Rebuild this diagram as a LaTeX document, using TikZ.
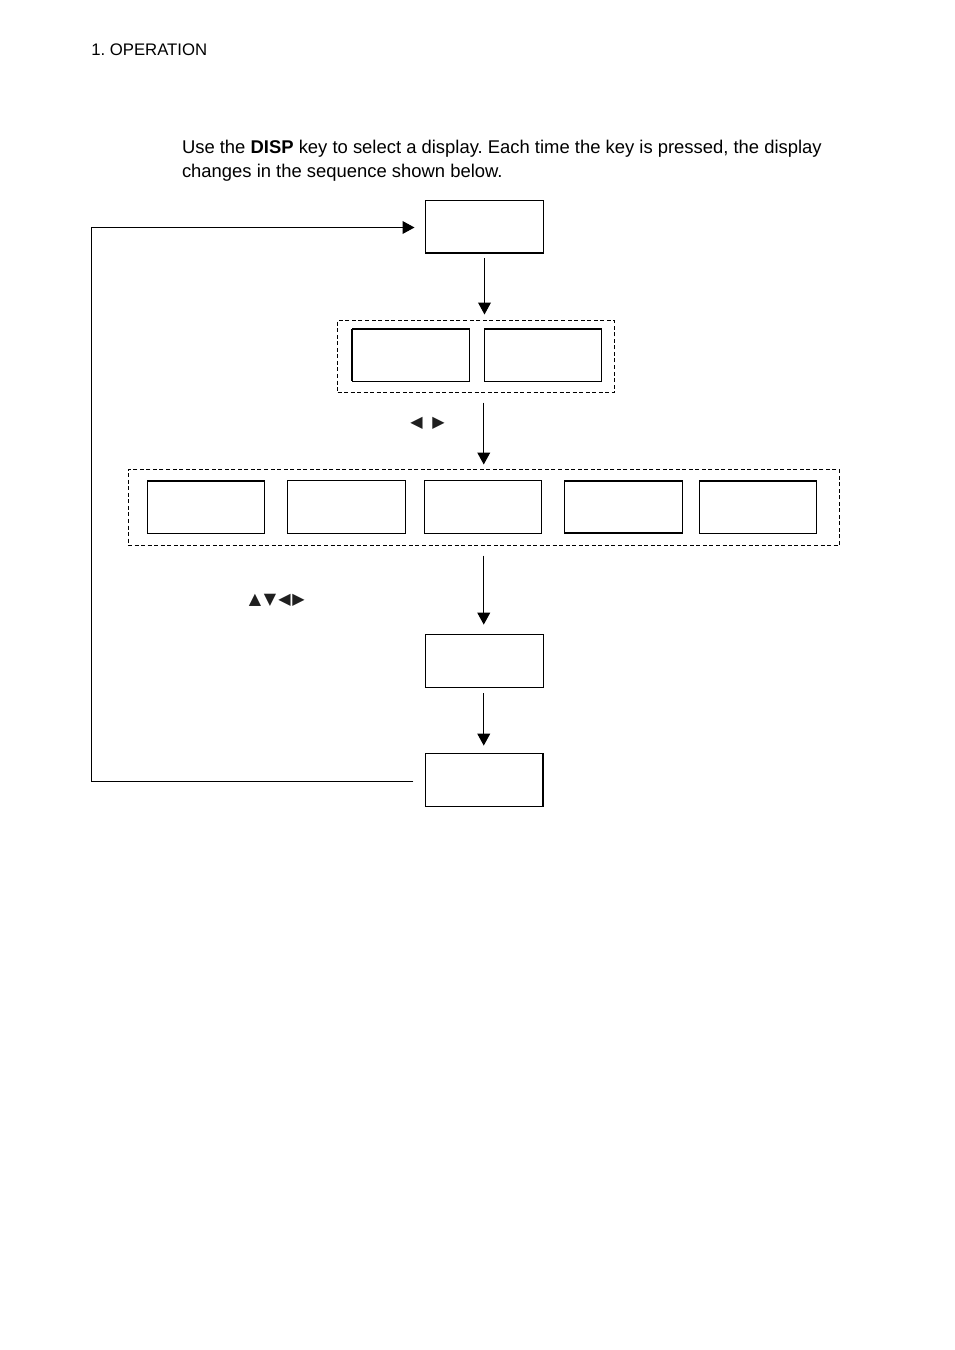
\documentclass[tikz,border=0pt]{standalone}
\usepackage{fontspec}
\setmainfont{Liberation Sans}
\newfontfamily\symfont{DejaVu Sans}
\usetikzlibrary{arrows.meta,positioning,calc}
\tikzset{
  px/.style={x=0.75pt,y=-0.75pt},
  dispbox/.style={draw=black,line width=0.75pt,minimum height=39.6pt,inner sep=0pt,outer sep=0pt},
  groupbox/.style={draw=black,line width=0.6pt,dash pattern=on 3pt off 1.9pt,inner sep=0pt,outer sep=0pt},
  flow/.style={draw=black,line width=0.8pt,-{Triangle[length=9pt,width=9.6pt]}},
  thickedge/.style={line width=1.5pt,line cap=butt},
  keys/.style={inner sep=0pt,outer sep=0pt,text=black!88,font=\symfont\fontsize{12pt}{12pt}\selectfont},
  body/.style={anchor=base west,inner sep=0pt,outer sep=0pt,font=\fontsize{13.82pt}{18.75pt}\selectfont}
}
\begin{document}
\frenchspacing
\begin{tikzpicture}[px]
\useasboundingbox (0,0) rectangle (954,1350);
\node[anchor=base west,inner sep=0pt,font=\fontsize{12.55pt}{14pt}\selectfont] (head) at (91,55) {1. OPERATION};
\node[body] (line1) at (182,153) {Use the \textbf{DISP} key to select a display. Each time the key is pressed, the display};
\node[body] (line2) at (182,177) {changes in the sequence shown below.};
% single boxes
\node[dispbox,minimum width=88.5pt] (a) at (484.5,227) {};
\node[dispbox,minimum width=88.5pt] (f) at (484.5,661) {};
\node[dispbox,minimum width=88.25pt] (g) at (484.25,780) {};
% first group
\node[groupbox,minimum width=207.75pt,minimum height=54pt] (g1) at (476,356.5) {};
\node[dispbox,minimum width=88pt] (b1) at (410.75,355) {};
\node[dispbox,minimum width=88pt] (b2) at (543.25,355) {};
% second group
\node[groupbox,minimum width=533.6pt,minimum height=57pt] (g2) at (483.75,507.5) {};
\node[dispbox,minimum width=88pt] (c1) at (206.25,507) {};
\node[dispbox,minimum width=88.5pt] (c2) at (346.5,507) {};
\node[dispbox,minimum width=87.75pt] (c3) at (483,507) {};
\node[dispbox,minimum width=88.5pt] (c4) at (623.5,507) {};
\node[dispbox,minimum width=87.75pt] (c5) at (758,507) {};
% heavier edges
\draw[thickedge] (a.south west) -- (a.south east);
\draw[thickedge] (b1.north west) -- (b1.north east);
\draw[thickedge] (b1.north west) -- (b1.south west);
\draw[thickedge] (b2.north west) -- (b2.north east);
\draw[thickedge] (c1.north west) -- (c1.north east);
\draw[thickedge] (c4.north west) -- (c4.north east);
\draw[thickedge] (c4.south west) -- (c4.south east);
\draw[thickedge] (c5.north west) -- (c5.north east);
\draw[thickedge] (g.north east) -- (g.south east);
% connectors
\draw[flow,shorten <=3.75pt,shorten >=4.5pt] (a.south) -- (a.south |- g1.north);
\draw[flow,shorten <=7.5pt,shorten >=3.75pt] (g1.south -| g2.north) -- (g2.north);
\draw[flow,shorten <=7.5pt,shorten >=7.5pt] (g2.south) -- (g2.south |- f.north);
\draw[flow,shorten <=4.5pt,shorten >=6pt] (f.south -| g2.north) -- (g2.north |- g.north);
\coordinate (corner1) at (91.5,781.5);
\coordinate (corner2) at (91.5,227.5);
\draw[flow,shorten >=6pt] ($(g.west)+(-12,1.5)$) -- (corner1) -- (corner2) -- ($(a.west)+(-3,0.5)$);
% key symbols
\node[keys] (k1) at (416.5,423.5) {◀};
\node[keys] (k2) at (438.5,423.5) {▶};
\node[keys] (k3) at (255,600) {▲};
\node[keys] (k4) at (270,600) {▼};
\node[keys] (k5) at (284.5,600) {◀};
\node[keys] (k6) at (298.5,600) {▶};
\end{tikzpicture}
\end{document}
